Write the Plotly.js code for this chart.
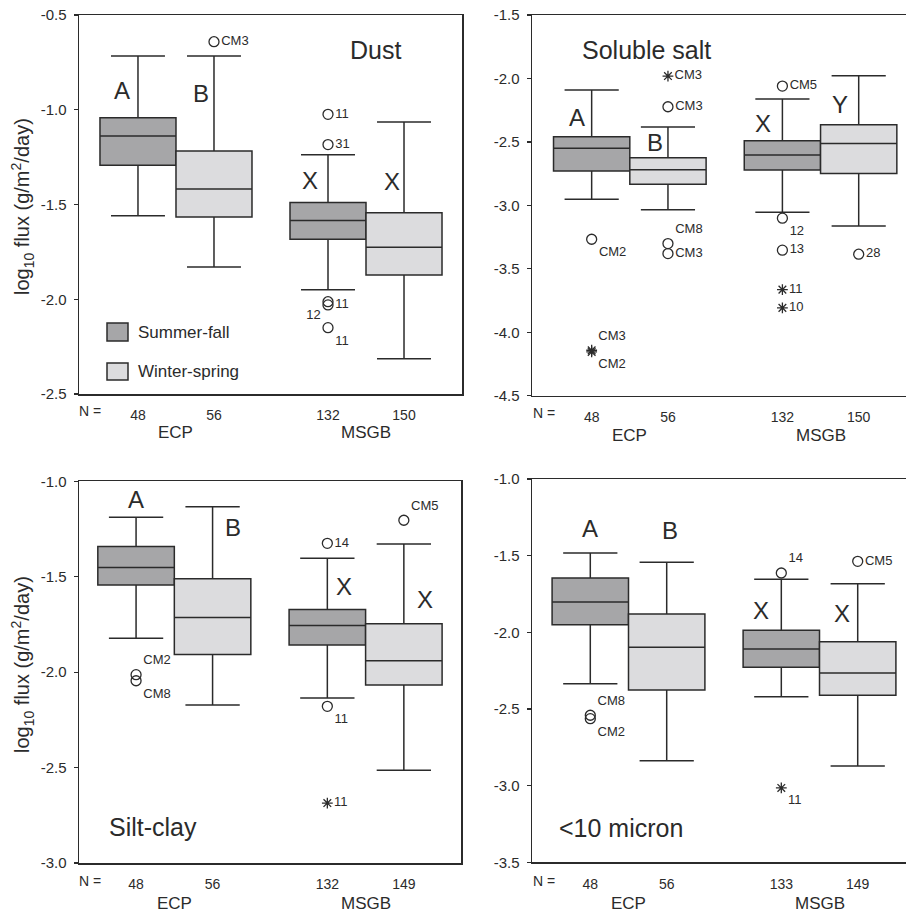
<!DOCTYPE html>
<html><head><meta charset="utf-8">
<script src="https://cdn.plot.ly/plotly-3.0.1.min.js"></script>
<style>html,body{margin:0;padding:0;background:#fff}#chart{width:906px;height:916px}</style>
</head><body><div id="chart"></div>
<script>
// ---------- DATA ----------
const groupNames = ['ECP', 'MSGB'];
const seasonNames = ['Summer-fall', 'Winter-spring'];
const panelTitles = ['Dust', 'Soluble salt', 'Silt-clay', '<10 micron'];
// box order: ECP summer-fall, ECP winter-spring, MSGB summer-fall, MSGB winter-spring

const dustN = [48, 56, 132, 150];
const dustLower = [-1.559, -1.830, -1.950, -2.314];
const dustQ1 = [-1.293, -1.566, -1.684, -1.872];
const dustMedian = [-1.139, -1.418, -1.585, -1.726];
const dustQ3 = [-1.042, -1.218, -1.489, -1.543];
const dustUpper = [-0.716, -0.716, -1.237, -1.065];
const dustLetters = ['A', 'B', 'X', 'X'];
const dustOutBox = [1, 2, 2, 2, 2, 2];
const dustOutValue = [-0.641, -1.024, -1.184, -2.013, -2.030, -2.150];
const dustOutLabel = ['CM3', '11', '31', '12', '11', '11'];
const dustOutKind = ['o', 'o', 'o', 'o', 'o', 'o'];

const saltN = [48, 56, 132, 150];
const saltLower = [-2.951, -3.035, -3.054, -3.162];
const saltQ1 = [-2.730, -2.833, -2.722, -2.749];
const saltMedian = [-2.551, -2.720, -2.604, -2.512];
const saltQ3 = [-2.460, -2.625, -2.491, -2.365];
const saltUpper = [-2.091, -2.383, -2.162, -1.978];
const saltLetters = ['A', 'B', 'X', 'Y'];
const saltOutBox = [0, 0, 0, 1, 1, 1, 1, 2, 2, 2, 2, 2, 3];
const saltOutValue = [-3.267, -4.142, -4.155, -1.981, -2.223, -3.301, -3.380, -2.060, -3.101, -3.353, -3.664, -3.808, -3.385];
const saltOutLabel = ['CM2', 'CM3', 'CM2', 'CM3', 'CM3', 'CM8', 'CM3', 'CM5', '12', '13', '11', '10', '28'];
const saltOutKind = ['o', '*', '*', '*', 'o', 'o', 'o', 'o', 'o', 'o', '*', '*', 'o'];

const siltN = [48, 56, 132, 149];
const siltLower = [-1.823, -2.172, -2.135, -2.514];
const siltQ1 = [-1.543, -1.907, -1.858, -2.067];
const siltMedian = [-1.452, -1.713, -1.755, -1.940];
const siltQ3 = [-1.342, -1.510, -1.672, -1.746];
const siltUpper = [-1.189, -1.133, -1.403, -1.328];
const siltLetters = ['A', 'B', 'X', 'X'];
const siltOutBox = [0, 0, 2, 2, 2, 3];
const siltOutValue = [-2.013, -2.045, -1.325, -2.179, -2.686, -1.204];
const siltOutLabel = ['CM2', 'CM8', '14', '11', '11', 'CM5'];
const siltOutKind = ['o', 'o', 'o', 'o', '*', 'o'];

const micN = [48, 56, 133, 149];
const micLower = [-2.335, -2.837, -2.420, -2.872];
const micQ1 = [-1.950, -2.376, -2.228, -2.411];
const micMedian = [-1.802, -2.098, -2.109, -2.265];
const micQ3 = [-1.646, -1.880, -1.987, -2.061];
const micUpper = [-1.483, -1.543, -1.654, -1.683];
const micLetters = ['A', 'B', 'X', 'X'];
const micOutBox = [0, 0, 2, 2, 3];
const micOutValue = [-2.541, -2.563, -1.613, -3.015, -1.537];
const micOutLabel = ['CM8', 'CM2', '14', '11', 'CM5'];
const micOutKind = ['o', 'o', 'o', '*', 'o'];

// ---------- LAYOUT / STYLE ----------
const W = 906, H = 916;
const FONT = 'Liberation Sans, Arial, Helvetica, sans-serif';
const INK = '#2b2b2b';
const boxPos = [1, 2, 3.5, 4.5];
const groupPos = [1.5, 4];
const seasonFill = ['#a6a6a8', '#dcdcde'];

const panels = [
  {l: 79, r: 462, t: 15, b: 394, yr: [-2.5, -0.5], xr: [0.224, 5.263], mirrorY: true,
   N: dustN, lo: dustLower, q1: dustQ1, med: dustMedian, q3: dustQ3, hi: dustUpper,
   letters: dustLetters, letterDx: [-0.21, -0.17, -0.24, -0.16], letterY: [-0.896, -0.912, -1.371, -1.381],
   ob: dustOutBox, ov: dustOutValue, ol: dustOutLabel, ok: dustOutKind,
   opos: ['middle right', 'middle right', 'middle right', 'bottom left', 'middle right', 'bottom right'],
   title: [375, 50], nLab: [90, 411], grpY: 432},
  {l: 532, r: 906, t: 15, b: 395.7, yr: [-4.5, -1.5], xr: [0.218, 5.12], mirrorY: false,
   N: saltN, lo: saltLower, q1: saltQ1, med: saltMedian, q3: saltQ3, hi: saltUpper,
   letters: saltLetters, letterDx: [-0.19, -0.17, -0.25, -0.25], letterY: [-2.304, -2.502, -2.352, -2.202],
   ob: saltOutBox, ov: saltOutValue, ol: saltOutLabel, ok: saltOutKind,
   opos: ['bottom right', 'top right', 'bottom right', 'middle right', 'middle right', 'top right', 'middle right', 'middle right', 'bottom right', 'middle right', 'middle right', 'middle right', 'middle right'],
   title: [646, 50], nLab: [544, 413], grpY: 435},
  {l: 79, r: 461, t: 481.3, b: 863, yr: [-3.0, -1.0], xr: [0.254, 5.247], mirrorY: true,
   N: siltN, lo: siltLower, q1: siltQ1, med: siltMedian, q3: siltQ3, hi: siltUpper,
   letters: siltLetters, letterDx: [0.0, 0.27, 0.22, 0.27], letterY: [-1.096, -1.240, -1.549, -1.621],
   ob: siltOutBox, ov: siltOutValue, ol: siltOutLabel, ok: siltOutKind,
   opos: ['top right', 'bottom right', 'middle right', 'bottom right', 'middle right', 'top right'],
   title: [153, 827], nLab: [90, 881], grpY: 903},
  {l: 532, r: 906, t: 479, b: 862.3, yr: [-3.5, -1.0], xr: [0.237, 5.132], mirrorY: false,
   N: micN, lo: micLower, q1: micQ1, med: micMedian, q3: micQ3, hi: micUpper,
   letters: micLetters, letterDx: [0.0, 0.04, -0.27, -0.21], letterY: [-1.320, -1.333, -1.855, -1.874],
   ob: micOutBox, ov: micOutValue, ol: micOutLabel, ok: micOutKind,
   opos: ['top right', 'bottom right', 'top right', 'bottom right', 'middle right'],
   title: [621, 828], nLab: [544, 881], grpY: 903}
];

const px = v => v / W;
const py = v => 1 - v / H;
const C = {xanchor: 'center', yanchor: 'middle', showarrow: false};

const traces = [];
const layout = {
  width: W, height: H, margin: {l: 0, r: 0, t: 0, b: 0},
  paper_bgcolor: '#fff', plot_bgcolor: 'rgba(0,0,0,0)',
  showlegend: false, font: {family: FONT, color: INK},
  annotations: [], shapes: [], boxmode: 'overlay'
};

panels.forEach((P, p) => {
  const sfx = p === 0 ? '' : String(p + 1);
  const xa = 'x' + sfx, ya = 'y' + sfx;
  // boxes
  for (let i = 0; i < 4; i++) {
    traces.push({
      type: 'box', xaxis: xa, yaxis: ya,
      x: [boxPos[i]], q1: [P.q1[i]], median: [P.med[i]], q3: [P.q3[i]],
      lowerfence: [P.lo[i]], upperfence: [P.hi[i]],
      width: 1, whiskerwidth: 0.71, boxpoints: false,
      fillcolor: seasonFill[i % 2], line: {color: INK, width: 1.5},
      hoverinfo: 'skip', name: seasonNames[i % 2]
    });
  }
  // outliers
  ['o', '*'].forEach(kind => {
    const idx = P.ok.map((k, j) => k === kind ? j : -1).filter(j => j >= 0);
    if (!idx.length) return;
    traces.push({
      type: 'scatter', mode: 'markers+text', xaxis: xa, yaxis: ya,
      x: idx.map(j => boxPos[P.ob[j]]), y: idx.map(j => P.ov[j]),
      text: idx.map(j => P.ol[j]), textposition: idx.map(j => P.opos[j]),
      textfont: {size: 13, color: INK, family: FONT},
      marker: kind === 'o'
        ? {symbol: 'circle-open', size: 10, color: INK, line: {width: 1.3, color: INK}}
        : {symbol: 'asterisk-open', size: 9, color: INK, line: {width: 1.3, color: INK}},
      hoverinfo: 'skip', cliponaxis: false
    });
  });
  // axes
  const yt = [];
  for (let v = P.yr[0]; v <= P.yr[1] + 1e-9; v += 0.5) yt.push(Math.round(v * 10) / 10);
  layout['xaxis' + sfx] = {
    domain: [px(P.l), Math.min(1, px(P.r))], range: P.xr, anchor: ya,
    showline: true, linecolor: INK, linewidth: 1.5, mirror: true,
    ticks: '', tickvals: boxPos, ticktext: P.N.map(String),
    tickfont: {size: 14, color: INK}, ticklabelstandoff: 8,
    showgrid: false, zeroline: false, fixedrange: true
  };
  layout['yaxis' + sfx] = {
    domain: [py(P.b), py(P.t)], range: P.yr, anchor: xa,
    showline: true, linecolor: INK, linewidth: 1.5, mirror: P.mirrorY,
    ticks: 'outside', ticklen: 4, tickwidth: 1.2, tickcolor: INK,
    tickvals: yt, ticktext: yt.map(v => v.toFixed(1)),
    tickfont: {size: 15, color: INK}, ticklabelstandoff: 4,
    showgrid: false, zeroline: false, fixedrange: true
  };
  // letters
  P.letters.forEach((L, i) => {
    layout.annotations.push(Object.assign({xref: xa, yref: ya, x: boxPos[i] + P.letterDx[i], y: P.letterY[i],
      text: L, font: {size: 24, color: INK}}, C));
  });
  // panel title
  layout.annotations.push(Object.assign({xref: 'paper', yref: 'paper', x: px(P.title[0]), y: py(P.title[1]),
    text: panelTitles[p].replace('<', '&lt;'), font: {size: 25, color: INK}}, C));
  // N =
  layout.annotations.push(Object.assign({xref: 'paper', yref: 'paper', x: px(P.nLab[0]), y: py(P.nLab[1]),
    text: 'N =', font: {size: 14, color: INK}}, C));
  // group labels
  groupNames.forEach((g, k) => {
    layout.annotations.push(Object.assign({xref: xa, yref: 'paper', x: groupPos[k], y: py(P.grpY),
      text: g, font: {size: 17, color: INK}}, C));
  });
});

// y-axis titles
[207, 665].forEach(cy => {
  layout.annotations.push(Object.assign({xref: 'paper', yref: 'paper', x: px(22), y: py(cy), textangle: -90,
    text: 'log<sub>10</sub> flux (g/m<sup>2</sup>/day)', font: {size: 20, color: INK}}, C));
});

// legend
const legRows = [[323, 341], [363, 380]];
legRows.forEach((r, k) => {
  layout.shapes.push({type: 'rect', xref: 'paper', yref: 'paper', x0: px(107), x1: px(128), y0: py(r[1]), y1: py(r[0]),
    fillcolor: seasonFill[k], line: {color: INK, width: 1.5}});
  layout.annotations.push({xref: 'paper', yref: 'paper', x: px(136), y: py((r[0] + r[1]) / 2),
    xanchor: 'left', yanchor: 'middle', showarrow: false,
    text: seasonNames[k], font: {size: 17, color: INK}});
});

Plotly.newPlot('chart', traces, layout, {staticPlot: true, displayModeBar: false});
</script>
</body></html>
